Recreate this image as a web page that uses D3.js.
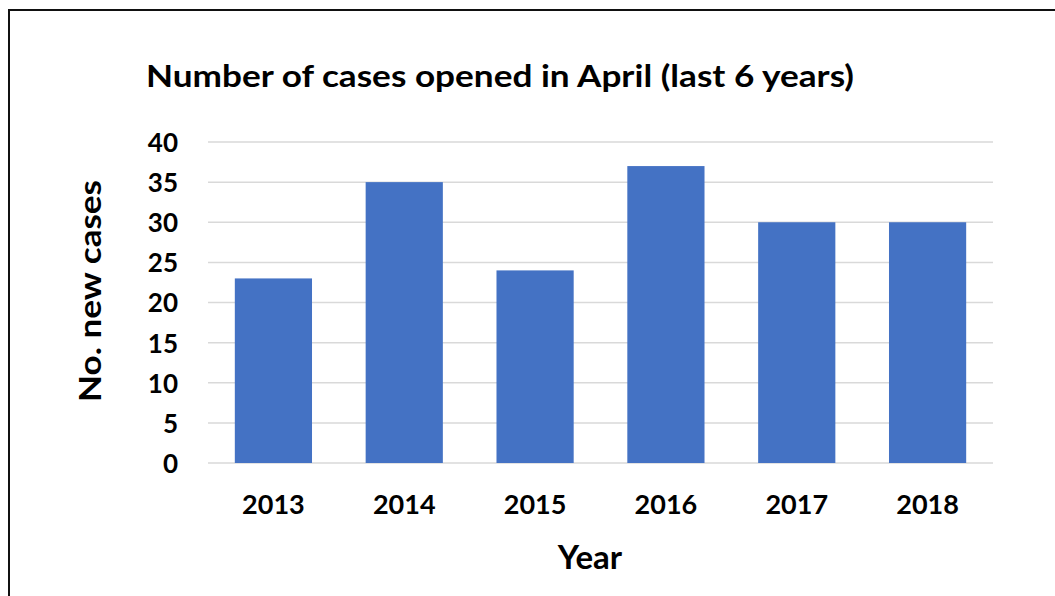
<!DOCTYPE html>
<html>
<head>
<meta charset="utf-8">
<script src="https://cdn.jsdelivr.net/npm/d3@7"></script>
<style>
  body { margin: 0; background: #fff; }
  svg text { font-family: Lato, "Open Sans", sans-serif; font-weight: bold; fill: #000; }
</style>
</head>
<body>
<svg id="chart" width="1055" height="596"></svg>
<script>
// chart data
const years = ["2013", "2014", "2015", "2016", "2017", "2018"];
const cases = [23, 35, 24, 37, 30, 30];
const yTicks = [0, 5, 10, 15, 20, 25, 30, 35, 40];

const svg = d3.select("#chart");

// outer frame (only top and left edges visible)
svg.append("rect")
    .attr("x", 9).attr("y", 10)
    .attr("width", 1100).attr("height", 700)
    .attr("fill", "none")
    .attr("stroke", "#111")
    .attr("stroke-width", 2);

const plotLeft = 208, plotRight = 993, plotTop = 142, plotBottom = 463;

const x = d3.scaleBand().domain(years).range([plotLeft, plotRight]).paddingInner(0.41).paddingOuter(0.205);
const y = d3.scaleLinear().domain([0, 40]).range([plotBottom, plotTop]);

// gridlines
svg.append("g")
    .selectAll("line")
    .data(yTicks)
    .enter()
    .append("line")
    .attr("x1", plotLeft).attr("x2", plotRight)
    .attr("y1", d => y(d)).attr("y2", d => y(d))
    .attr("stroke", "#d9d9d9")
    .attr("stroke-width", 1.5);

// bars
svg.append("g")
    .selectAll("rect")
    .data(cases)
    .enter()
    .append("rect")
    .attr("x", (d, i) => x(years[i]))
    .attr("width", x.bandwidth())
    .attr("y", d => y(d))
    .attr("height", d => y(0) - y(d))
    .attr("fill", "#4472c4");

// y axis labels
const yAxis = svg.append("g")
    .attr("transform", "translate(" + (plotLeft - 30) + ",0)")
    .call(d3.axisLeft(y).tickValues(yTicks).tickSize(0).tickPadding(0));
yAxis.select(".domain").remove();
yAxis.selectAll("text")
    .attr("font-size", 26)
    .attr("dy", "0.36em");

// x axis labels
const xAxis = svg.append("g")
    .attr("transform", "translate(0," + plotBottom + ")")
    .call(d3.axisBottom(x).tickSize(0).tickPadding(32));
xAxis.select(".domain").remove();
xAxis.selectAll("text")
    .attr("font-size", 27);

// title
svg.append("text")
    .attr("x", 500).attr("y", 87)
    .attr("text-anchor", "middle")
    .attr("font-size", 31)
    .attr("textLength", 708)
    .attr("lengthAdjust", "spacingAndGlyphs")
    .text("Number of cases opened in April (last 6 years)");

// axis titles
svg.append("text")
    .attr("x", 590).attr("y", 569)
    .attr("text-anchor", "middle")
    .attr("font-size", 33)
    .text("Year");

svg.append("text")
    .attr("transform", "translate(101,291) rotate(-90)")
    .attr("text-anchor", "middle")
    .attr("font-size", 30)
    .attr("textLength", 222)
    .attr("lengthAdjust", "spacingAndGlyphs")
    .text("No. new cases");
</script>
</body>
</html>
